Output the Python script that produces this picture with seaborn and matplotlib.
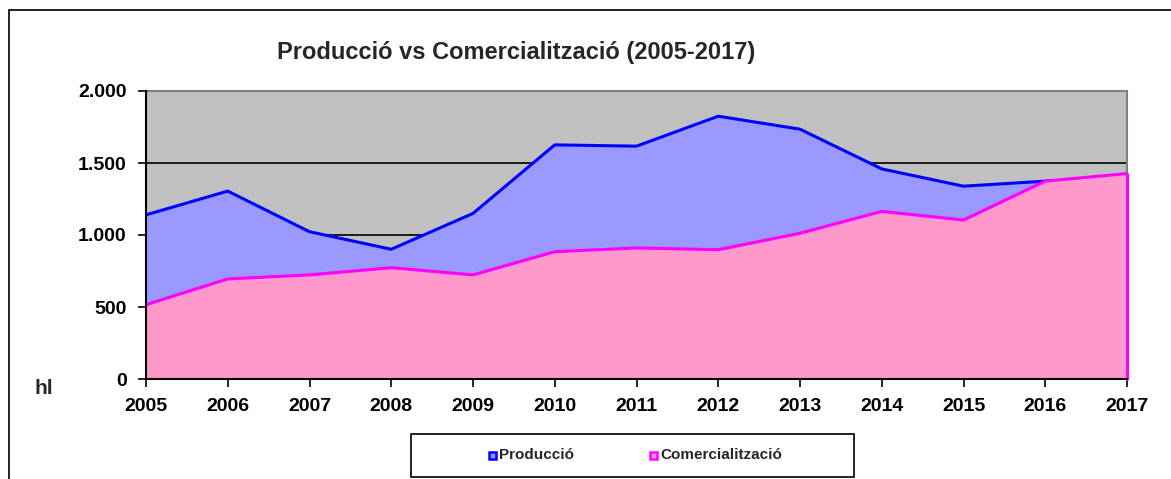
import matplotlib
matplotlib.use("Agg")
import matplotlib.pyplot as plt
import matplotlib.patches as mpatches
import numpy as np
import pandas as pd
import seaborn as sns

# ---- data ----
years = [2005, 2006, 2007, 2008, 2009, 2010, 2011, 2012, 2013, 2014, 2015, 2016, 2017]
produccio = [1140, 1305, 1023, 901, 1150, 1626, 1617, 1825, 1735, 1459, 1339, 1374, 1400]
comercialitzacio = [516, 695, 723, 773, 723, 884, 910, 898, 1012, 1164, 1104, 1374, 1427]
series_names = ["Producció", "Comercialització"]
y_ticks = [0, 500, 1000, 1500, 2000]
y_tick_labels = ["0", "500", "1.000", "1.500", "2.000"]
title = "Producció vs Comercialització (2005-2017)"
y_unit = "hl"

fill_colors = ["#9999FF", "#FF99CC"]
line_colors = ["#0000FF", "#FF00FF"]

sns.set_style("white")
plt.rcParams["font.family"] = ["Liberation Sans", "DejaVu Sans"]

W, H = 1171, 479
fig = plt.figure(figsize=(W / 100, H / 100), dpi=100)
ax = fig.add_axes([146 / W, 1 - 379 / H, (1127 - 146) / W, (379 - 91) / H])

df = pd.DataFrame({"year": years, series_names[0]: produccio, series_names[1]: comercialitzacio})

ax.set_facecolor("#C0C0C0")
for yv in y_ticks[1:-1]:
    ax.axhline(yv, color="#000000", lw=1.2, zorder=0.5)

for i, name in enumerate(series_names):
    z = 2 + i * 2
    ax.fill_between(df["year"], 0, df[name], color=fill_colors[i], lw=0, zorder=z)
    sns.lineplot(data=df, x="year", y=name, ax=ax, color=line_colors[i], lw=2.2, zorder=z + 0.5)

# right / bottom edge outline for commercialisation area
ax.plot([years[-1], years[-1]], [0, comercialitzacio[-1]], color=line_colors[1], lw=2.2, zorder=4.6, clip_on=False)
ax.plot([years[0], years[-1]], [0, 0], color=line_colors[1], lw=2.2, zorder=4.6)

ax.set_xlim(years[0], years[-1])
ax.set_ylim(0, 2000)
ax.set_xticks(years)
ax.set_xticklabels([str(y) for y in years])
ax.set_yticks(y_ticks)
ax.set_yticklabels(y_tick_labels)
ax.set_xlabel("")
ax.set_ylabel("")
ax.tick_params(axis="both", which="major", length=6, width=1.2, color="black", direction="out",
               labelsize=14, labelcolor="black")
ax.tick_params(axis="x", pad=8, bottom=True)
ax.tick_params(axis="y", pad=8, left=True)
for lab in ax.get_xticklabels() + ax.get_yticklabels():
    lab.set_fontweight("bold")

for s in ["top", "right"]:
    ax.spines[s].set_color("#808080")
    ax.spines[s].set_linewidth(1.5)
for s in ["left", "bottom"]:
    ax.spines[s].set_color("black")
    ax.spines[s].set_linewidth(1.5)
    ax.spines[s].set_zorder(10)

fig.text(516 / W, 1 - 52 / H, title, ha="center", va="center", fontsize=17, fontweight="bold")
fig.text(34 / W, 1 - 388 / H, y_unit, ha="left", va="center", fontsize=15, fontweight="bold")

# outer chart border (left and top visible)
fig.patches.append(mpatches.Rectangle((9 / W, -0.1), 1.2, 1 - 10 / H + 0.1, transform=fig.transFigure,
                                      fill=False, edgecolor="black", lw=1.2))

# legend box
fig.patches.append(mpatches.Rectangle((411 / W, 1 - 477 / H), 443 / W, 43 / H, transform=fig.transFigure,
                                      fill=True, facecolor="white", edgecolor="black", lw=1.2))
leg_x = [489, 650]
for i, name in enumerate(series_names):
    sq = 7
    fig.patches.append(mpatches.Rectangle(((leg_x[i]) / W, 1 - (455 + sq / 2) / H), sq / W, sq / H,
                                          transform=fig.transFigure, facecolor=fill_colors[i],
                                          edgecolor=line_colors[i], lw=1.8))
    fig.text((leg_x[i] + 10) / W, 1 - 455 / H, name, ha="left", va="center", fontsize=11, fontweight="bold")

fig.savefig("out.png", dpi=100)
